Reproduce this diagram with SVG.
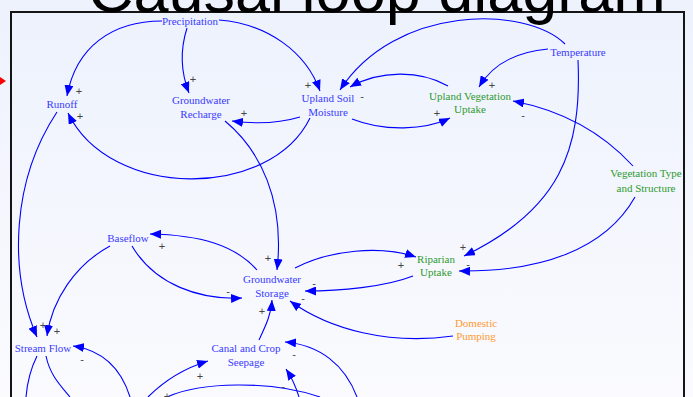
<svg xmlns="http://www.w3.org/2000/svg" width="693" height="397" viewBox="0 0 693 397">
<defs>
<linearGradient id="bg" x1="0" y1="0" x2="0" y2="1">
<stop offset="0" stop-color="#edf2fd"/>
<stop offset="1" stop-color="#fbfbfe"/>
</linearGradient>
<marker id="ah" markerUnits="userSpaceOnUse" markerWidth="12" markerHeight="9" refX="11" refY="4.5" orient="auto">
<path d="M0,0 L11,4.5 L0,9 z" fill="#0000ff"/>
</marker>
<style>
.n{font-family:"Liberation Serif","Times New Roman",serif;font-size:11px;text-anchor:middle}
.b{fill:#3a3aff}
.g{fill:#2f9a2f}
.o{fill:#ff9933}
.c path{fill:none;stroke:#0000ff;stroke-width:1.1}
.c path.a{marker-end:url(#ah)}
.s{font-family:"Liberation Sans",Arial,sans-serif;font-size:11px;fill:#444;text-anchor:middle}
</style>
</defs>
<rect x="0" y="0" width="693" height="397" fill="url(#bg)"/>
<rect x="11" y="12" width="673" height="400" fill="url(#bg)" stroke="#151515" stroke-width="2"/>
<text x="88" y="12" font-family="'Liberation Sans',Arial,sans-serif" font-size="63" fill="#000">Causal loop diagram</text>
<polygon points="0,77 6,81 0,85" fill="#ff0000"/>

<g id="connectors" class="c">
<path class="a" d="M162,21 C112,21 76,47 67,96"/>
<path class="a" d="M187,28 C180,50 180,70 189,93"/>
<path class="a" d="M219,20 C268,24 306,52 320,91"/>
<path class="a" d="M310,118 C270,200 110,200 68,113"/>
<path class="a" d="M300,117 C280,123 255,124 232,121"/>
<path class="a" d="M225,121 C260,150 285,200 277,270"/>
<path class="a" d="M565,44 C525,5 395,5 340,90"/>
<path class="a" d="M548,49 C515,52 492,65 479,87"/>
<path class="a" d="M448,86 C420,70 380,70 350,87"/>
<path class="a" d="M352,119 C385,132 425,130 450,118"/>
<path class="a" d="M633,166 C600,130 560,110 513,101"/>
<path class="a" d="M635,197 C605,250 540,272 459,271"/>
<path class="a" d="M578,60 C582,150 560,210 464,256"/>
<path class="a" d="M295,268 C330,250 380,245 416,257"/>
<path class="a" d="M413,276 C385,287 340,291 305,291"/>
<path class="a" d="M453,336 C390,345 330,330 290,301"/>
<path class="a" d="M257,270 C235,245 200,235 150,234"/>
<path class="a" d="M132,246 C155,285 200,300 242,298"/>
<path class="a" d="M110,246 C75,265 52,300 47,336"/>
<path class="a" d="M57,112 C12,180 8,270 37,337"/>
<path class="a" d="M259,340 C266,325 271,315 272,300"/>
<path class="a" d="M130,397 C120,365 100,350 73,346"/>
<path d="M37,356 C30,370 27,385 26,397"/>
<path d="M46,356 C50,375 60,385 70,397"/>
<path class="a" d="M148,397 C165,380 185,368 208,361"/>
<path class="a" d="M357,397 C345,365 320,345 285,342"/>
<path class="a" d="M299,397 C296,387 292,378 286,369"/>
<path d="M167,397 C200,382 270,380 320,397"/>
</g>

<g id="polarities">
<text class="s" x="79" y="95">+</text>
<text class="s" x="80" y="120">+</text>
<text class="s" x="193" y="83">+</text>
<text class="s" x="308" y="89">+</text>
<text class="s" x="362" y="100">-</text>
<text class="s" x="244" y="117">+</text>
<text class="s" x="492" y="89">+</text>
<text class="s" x="437" y="117">+</text>
<text class="s" x="523" y="119">-</text>
<text class="s" x="463" y="251">+</text>
<text class="s" x="468" y="268">-</text>
<text class="s" x="401" y="269">+</text>
<text class="s" x="314" y="287">-</text>
<text class="s" x="303" y="302">-</text>
<text class="s" x="268" y="262">+</text>
<text class="s" x="162" y="250">+</text>
<text class="s" x="228" y="295">-</text>
<text class="s" x="57" y="335">+</text>
<text class="s" x="43" y="329">+</text>
<text class="s" x="82" y="363">-</text>
<text class="s" x="262" y="315">+</text>
<text class="s" x="200" y="380">+</text>
<text class="s" x="294" y="358">-</text>
<text class="s" x="283" y="390">-</text>
<text class="s" x="167" y="400">+</text>
</g>

<g id="precipitation"><text class="n b" x="190" y="25">Precipitation</text></g>
<g id="runoff"><text class="n b" x="62" y="108">Runoff</text></g>
<g id="groundwater-recharge"><text class="n b" x="201" y="104">Groundwater<tspan x="201" dy="14">Recharge</tspan></text></g>
<g id="upland-soil-moisture"><text class="n b" x="328" y="102">Upland Soil<tspan x="328" dy="14">Moisture</tspan></text></g>
<g id="upland-vegetation-uptake"><text class="n g" x="470" y="100">Upland Vegetation<tspan x="470" dy="13">Uptake</tspan></text></g>
<g id="temperature"><text class="n b" x="578" y="56">Temperature</text></g>
<g id="vegetation-type"><text class="n g" x="646" y="177">Vegetation Type<tspan x="646" dy="15">and Structure</tspan></text></g>
<g id="baseflow"><text class="n b" x="128" y="242">Baseflow</text></g>
<g id="groundwater-storage"><text class="n b" x="272" y="283">Groundwater<tspan x="272" dy="14">Storage</tspan></text></g>
<g id="riparian-uptake"><text class="n g" x="436" y="263">Riparian<tspan x="436" dy="13">Uptake</tspan></text></g>
<g id="domestic-pumping"><text class="n o" x="476" y="327">Domestic<tspan x="476" dy="13">Pumping</tspan></text></g>
<g id="stream-flow"><text class="n b" x="43" y="352">Stream Flow</text></g>
<g id="canal-seepage"><text class="n b" x="246" y="352">Canal and Crop<tspan x="246" dy="14">Seepage</tspan></text></g>
</svg>
